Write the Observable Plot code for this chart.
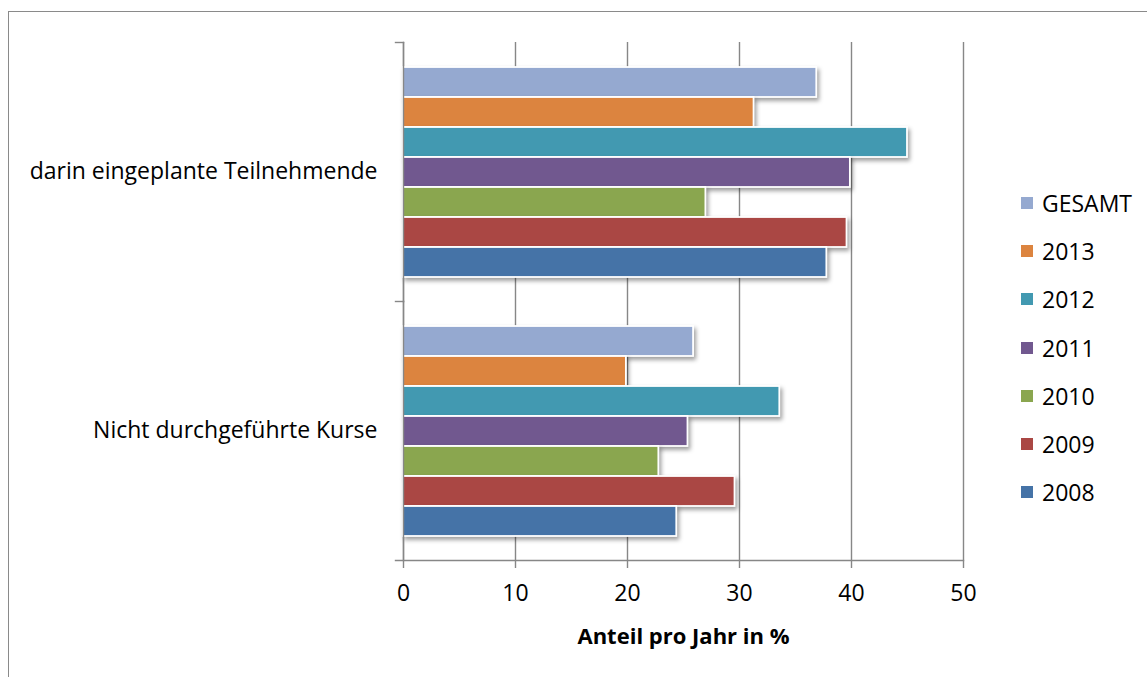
<!DOCTYPE html>
<html><head><meta charset="utf-8">
<script src="https://cdn.jsdelivr.net/npm/d3@7"></script>
<script src="https://cdn.jsdelivr.net/npm/@observablehq/plot@0.6"></script>
<style>
body{margin:0;background:#fff;font-family:"Open Sans", Lato, sans-serif}
#wrap{position:relative;width:1147px;height:677px;overflow:hidden}
#border{position:absolute;left:8px;top:11px;width:1200px;height:700px;border:1.5px solid #8a8a8a;box-sizing:border-box}
#chart{position:absolute;left:0;top:0}
#legend{position:absolute;left:1021px;top:0}
.li{position:absolute;display:flex;align-items:center;font-size:23px;white-space:nowrap;color:#000;transform:translateY(-50%)}
.sw{width:12px;height:12px;margin-right:9px;flex:none}
g[aria-label="bar"] rect{filter:drop-shadow(2px 3px 2px rgba(0,0,0,0.38))}
g[aria-label="x-axis label"] text{font-weight:bold;font-size:22px}
</style></head><body>
<div id="wrap"><div id="border"></div><div id="chart"></div><div id="legend"></div></div>
<script>
const categories = ["darin eingeplante Teilnehmende", "Nicht durchgeführte Kurse"];
const series = ["GESAMT", "2013", "2012", "2011", "2010", "2009", "2008"];
const valuesTeilnehmende = [36.9, 31.3, 45.0, 39.9, 27.0, 39.6, 37.8];
const valuesKurse = [25.9, 19.9, 33.6, 25.4, 22.8, 29.6, 24.4];
const colors = ["#95a9d0", "#dc843f", "#4299b1", "#71588f", "#8aa64f", "#aa4744", "#4573a7"];
const xTicks = [0, 10, 20, 30, 40, 50];
const xLabel = "Anteil pro Jahr in %";

const valuesByCategory = [valuesTeilnehmende, valuesKurse];
const data = [];
categories.forEach((c, i) => series.forEach((s, j) => data.push({cat: c, series: s, value: valuesByCategory[i][j]})));

const gridColor = "#878787";
const fontSize = 23;
const chart = Plot.plot({
  width: 1147, height: 677,
  marginLeft: 403, marginRight: 184, marginTop: 41, marginBottom: 117,
  style: {fontFamily: "'Open Sans', Lato, sans-serif", fontSize: fontSize + "px", color: "#000", background: "transparent", overflow: "visible"},
  x: {domain: [0, 50]},
  y: {domain: series, paddingInner: 0, paddingOuter: 0.77, axis: null},
  fy: {domain: categories, padding: 0},
  color: {domain: series, range: colors},
  marks: [
    Plot.gridX(xTicks, {stroke: gridColor, strokeOpacity: 1, strokeWidth: 1.4}),
    Plot.barX(data, {fy: "cat", y: "series", x: "value", fill: "series", stroke: "white", strokeWidth: 1.8}),
    Plot.frame({anchor: "left", stroke: gridColor, strokeWidth: 1.4}),
    Plot.frame({anchor: "top", stroke: gridColor, strokeWidth: 1.4, insetLeft: -8, insetRight: 560}),
    Plot.frame({anchor: "bottom", facetAnchor: "bottom", stroke: gridColor, strokeWidth: 1.4, insetLeft: -8}),
    Plot.axisX(xTicks, {anchor: "bottom", tickSize: 8, tickPadding: 16, fontSize, stroke: gridColor, strokeWidth: 1.4,
      label: xLabel, labelAnchor: "center", labelOffset: 83, labelArrow: "none"}),
    Plot.axisFy({anchor: "left", tickSize: 0, tickPadding: 26, fontSize, label: null})
  ]
});
document.getElementById("chart").appendChild(chart);

const legend = document.getElementById("legend");
series.forEach((s, i) => {
  const row = document.createElement("div");
  row.className = "li";
  row.style.top = (203 + i * 48.2) + "px";
  const sw = document.createElement("span");
  sw.className = "sw";
  sw.style.background = colors[i];
  const t = document.createElement("span");
  t.textContent = s;
  row.appendChild(sw); row.appendChild(t);
  legend.appendChild(row);
});
</script>
</body></html>
